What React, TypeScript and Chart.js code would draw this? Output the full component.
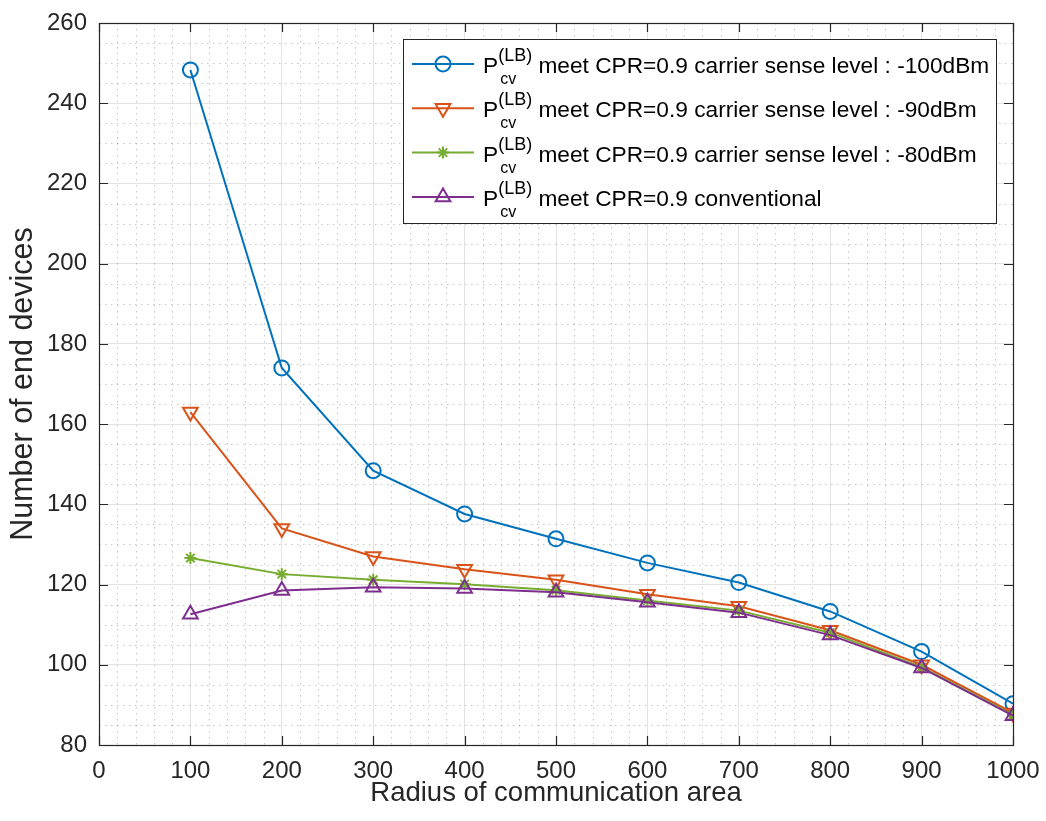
import React, { useEffect, useRef } from 'react';
import { Chart, registerables } from 'chart.js';
import { drawPoint } from 'chart.js/helpers';

Chart.register(...registerables);

const radius = [100, 200, 300, 400, 500, 600, 700, 800, 900, 1000];
const cs100 = [248.3, 174, 148.4, 137.6, 131.4, 125.4, 120.5, 113.3, 103.3, 90.3];
const cs90 = [163, 134, 127, 123.8, 121.2, 117.6, 114.6, 108.6, 100, 88];
const cs80 = [126.6, 122.6, 121.2, 120.1, 118.6, 116, 113.5, 108, 99.4, 87.5];
const conventional = [112.6, 118.5, 119.3, 119, 118.1, 115.6, 113, 107.4, 99.2, 87.3];

const legendSuffixes = [
  'meet CPR=0.9 carrier sense level : -100dBm',
  'meet CPR=0.9 carrier sense level : -90dBm',
  'meet CPR=0.9 carrier sense level : -80dBm',
  'meet CPR=0.9 conventional',
];
const seriesColors = ['#0072BD', '#D95319', '#77AC30', '#7E2F8E'];
const xTitle = 'Radius of communication area';
const yTitle = 'Number of end devices';

const FONT = '"Liberation Sans", Arial, Helvetica, sans-serif';
const AXIS_COLOR = '#262626';

const minorGridPlugin = {
  id: 'minorGrid',
  beforeDatasetsDraw(chart: any) {
    const { ctx, chartArea, scales } = chart;
    const { left, right, top, bottom } = chartArea;
    ctx.save();
    ctx.strokeStyle = 'rgba(0,0,0,0.22)';
    ctx.lineWidth = 1;
    ctx.setLineDash([1.5, 4.5]);
    for (let v = 0; v <= 1000; v += 20) {
      if (v % 100 === 0) continue;
      const px = Math.round(scales.x.getPixelForValue(v)) + 0.5;
      ctx.beginPath();
      ctx.moveTo(px, top);
      ctx.lineTo(px, bottom);
      ctx.stroke();
    }
    for (let v = 80; v <= 260; v += 5) {
      if (v % 20 === 0) continue;
      const py = Math.round(scales.y.getPixelForValue(v)) + 0.5;
      ctx.beginPath();
      ctx.moveTo(left, py);
      ctx.lineTo(right, py);
      ctx.stroke();
    }
    ctx.restore();
  },
};

const boxPlugin = {
  id: 'axesBox',
  afterDatasetsDraw(chart: any) {
    const { ctx, chartArea, scales } = chart;
    const { left, right, top, bottom } = chartArea;
    ctx.save();
    ctx.strokeStyle = AXIS_COLOR;
    ctx.lineWidth = 1.2;
    ctx.setLineDash([]);
    ctx.strokeRect(Math.round(left) + 0.5, Math.round(top) + 0.5, Math.round(right - left), Math.round(bottom - top));
    const tl = 9;
    ctx.beginPath();
    for (let v = 0; v <= 1000; v += 100) {
      const px = Math.round(scales.x.getPixelForValue(v)) + 0.5;
      ctx.moveTo(px, bottom);
      ctx.lineTo(px, bottom - tl);
      ctx.moveTo(px, top);
      ctx.lineTo(px, top + tl);
    }
    for (let v = 80; v <= 260; v += 20) {
      const py = Math.round(scales.y.getPixelForValue(v)) + 0.5;
      ctx.moveTo(left, py);
      ctx.lineTo(left + tl, py);
      ctx.moveTo(right, py);
      ctx.lineTo(right - tl, py);
    }
    ctx.stroke();
    ctx.restore();
  },
};

const legendPlugin = {
  id: 'matlabLegend',
  afterDraw(chart: any) {
    const { ctx } = chart;
    const x0 = 403, y0 = 39, w = 593, h = 184;
    ctx.save();
    ctx.fillStyle = '#ffffff';
    ctx.fillRect(x0, y0, w, h);
    ctx.strokeStyle = AXIS_COLOR;
    ctx.lineWidth = 1;
    ctx.strokeRect(x0 + 0.5, y0 + 0.5, w, h);
    chart.data.datasets.forEach((ds: any, i: number) => {
      const base = 73 + i * 44.3;
      const my = base - 9;
      ctx.setLineDash([]);
      ctx.strokeStyle = ds.borderColor;
      ctx.lineWidth = 2;
      ctx.beginPath();
      ctx.moveTo(412, my);
      ctx.lineTo(474, my);
      ctx.stroke();
      ctx.fillStyle = 'rgba(0,0,0,0)';
      ctx.strokeStyle = ds.borderColor;
      ctx.lineWidth = 2;
      drawPoint(ctx, {
        pointStyle: ds.pointStyle,
        rotation: ds.pointRotation || 0,
        radius: ds.pointRadius,
        borderWidth: 2,
      }, 443, my);

      ctx.fillStyle = '#000000';
      ctx.textAlign = 'left';
      ctx.textBaseline = 'alphabetic';
      const px = 483;
      ctx.font = `22.7px ${FONT}`;
      ctx.fillText('P', px, base);
      const pw = ctx.measureText('P').width;
      ctx.font = `18px ${FONT}`;
      ctx.fillText('(LB)', px + pw, base - 12);
      const supW = ctx.measureText('(LB)').width;
      ctx.font = `16px ${FONT}`;
      ctx.fillText('cv', px + pw + 2, base + 11);
      ctx.font = `22.7px ${FONT}`;
      ctx.fillText(' ' + legendSuffixes[i], px + pw + supW, base);
    });
    ctx.restore();
  },
};

export default function App() {
  const canvasRef = useRef<HTMLCanvasElement | null>(null);

  useEffect(() => {
    if (!canvasRef.current) return;
    const mk = (vals: number[]) => vals.map((v, i) => ({ x: radius[i], y: v }));
    const chart = new Chart(canvasRef.current, {
      type: 'line',
      data: {
        datasets: [
          {
            label: legendSuffixes[0],
            data: mk(cs100),
            borderColor: seriesColors[0],
            backgroundColor: 'rgba(0,0,0,0)',
            pointStyle: 'circle',
            pointRadius: 7.5,
            pointBorderWidth: 2,
            borderWidth: 2,
            order: 4,
          },
          {
            label: legendSuffixes[1],
            data: mk(cs90),
            borderColor: seriesColors[1],
            backgroundColor: 'rgba(0,0,0,0)',
            pointStyle: 'triangle',
            pointRotation: 180,
            pointRadius: 8.5,
            pointBorderWidth: 2,
            borderWidth: 2,
            order: 3,
          },
          {
            label: legendSuffixes[2],
            data: mk(cs80),
            borderColor: seriesColors[2],
            backgroundColor: 'rgba(0,0,0,0)',
            pointStyle: 'star',
            pointRadius: 6,
            pointBorderWidth: 2,
            borderWidth: 2,
            order: 2,
          },
          {
            label: legendSuffixes[3],
            data: mk(conventional),
            borderColor: seriesColors[3],
            backgroundColor: 'rgba(0,0,0,0)',
            pointStyle: 'triangle',
            pointRadius: 8.5,
            pointBorderWidth: 2,
            borderWidth: 2,
            order: 1,
          },
        ] as any,
      },
      options: {
        responsive: false,
        animation: false,
        events: [],
        layout: { padding: { top: 23, right: 33, left: 0, bottom: 0 } },
        elements: { line: { tension: 0 } },
        plugins: {
          legend: { display: false },
          tooltip: { enabled: false },
        },
        scales: {
          x: {
            type: 'linear',
            min: 0,
            max: 1000,
            ticks: {
              stepSize: 100,
              color: AXIS_COLOR,
              font: { family: FONT, size: 24 },
              padding: 12,
              maxRotation: 0,
              autoSkip: false,
              callback: (v: any) => String(v),
            },
            grid: { color: 'rgba(0,0,0,0.11)', lineWidth: 1, drawTicks: false },
            border: { display: false },
            title: {
              display: true,
              text: xTitle,
              color: AXIS_COLOR,
              font: { family: FONT, size: 27.5 },
              padding: { top: 0, bottom: 11 },
            },
            afterFit(scale: any) {
              scale.height = 76;
              scale.paddingLeft = 0;
              scale.paddingRight = 0;
            },
          },
          y: {
            type: 'linear',
            min: 80,
            max: 260,
            ticks: {
              stepSize: 20,
              color: AXIS_COLOR,
              font: { family: FONT, size: 24 },
              padding: 12,
              callback: (v: any) => String(v),
            },
            grid: { color: 'rgba(0,0,0,0.11)', lineWidth: 1, drawTicks: false },
            border: { display: false },
            title: {
              display: true,
              text: yTitle,
              color: AXIS_COLOR,
              font: { family: FONT, size: 30.5 },
              padding: { top: 5, bottom: 0 },
            },
            afterFit(scale: any) {
              scale.width = 99;
              scale.paddingTop = 0;
              scale.paddingBottom = 0;
            },
          },
        },
      } as any,
      plugins: [minorGridPlugin, boxPlugin, legendPlugin],
    });
    return () => chart.destroy();
  }, []);

  return (
    <div style={{ position: 'absolute', left: 0, top: 0, width: 1046, height: 821, background: '#fff' }}>
      <canvas ref={canvasRef} width={1046} height={821} />
    </div>
  );
}
